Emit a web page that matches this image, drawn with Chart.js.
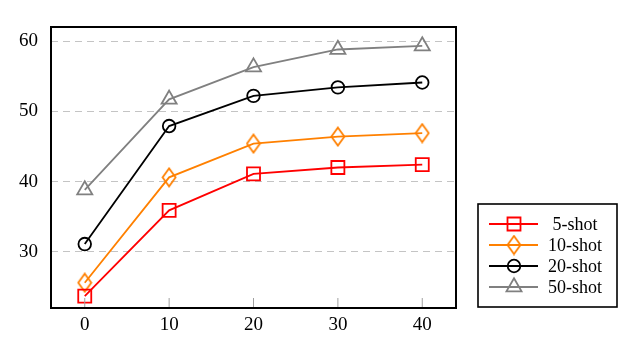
<!DOCTYPE html>
<html><head><meta charset="utf-8">
<script src="https://cdn.jsdelivr.net/npm/chart.js@4.4.1/dist/chart.umd.min.js"></script>
<style>html,body{margin:0;padding:0;background:#fff}</style>
</head><body>
<canvas id="c" width="642" height="352" style="width:642px;height:352px;display:block"></canvas>
<script>
const xValues = [0, 10, 20, 30, 40];
const shot5  = [23.7, 35.9, 41.1, 42.0, 42.4];
const shot10 = [25.6, 40.6, 45.4, 46.4, 46.9];
const shot20 = [31.1, 47.9, 52.2, 53.4, 54.1];
const shot50 = [38.8, 51.7, 56.3, 58.8, 59.3];
const seriesLabels = ['5-shot', '10-shot', '20-shot', '50-shot'];
const xTicks = [0, 10, 20, 30, 40];
const yTicks = [30, 40, 50, 60];

const FONT = 'Liberation Serif';
const LW = 1.8;
const toPts = arr => arr.map((v, i) => ({x: xValues[i], y: v}));

function makeDiamond(color) {
  const w = 16, h = 21;
  const cv = document.createElement('canvas');
  cv.width = w; cv.height = h;
  const c = cv.getContext('2d');
  c.strokeStyle = color; c.lineWidth = LW; c.lineJoin = 'miter';
  c.beginPath();
  c.moveTo(w / 2, 1.5); c.lineTo(w - 1.5, h / 2); c.lineTo(w / 2, h - 1.5); c.lineTo(1.5, h / 2);
  c.closePath(); c.stroke();
  return cv;
}

const styles = [
  {color: '#ff0000', pointStyle: 'rect', r: 9.2},
  {color: '#ff8000', pointStyle: makeDiamond('#ff8000'), r: 8},
  {color: '#000000', pointStyle: 'circle', r: 6.3},
  {color: '#808080', pointStyle: 'triangle', r: 8.7}
];
const seriesData = [shot5, shot10, shot20, shot50];

const datasets = seriesData.map((d, i) => ({
  label: seriesLabels[i],
  data: toPts(d),
  borderColor: styles[i].color,
  backgroundColor: 'rgba(0,0,0,0)',
  pointBackgroundColor: 'rgba(0,0,0,0)',
  pointBorderColor: styles[i].color,
  pointStyle: styles[i].pointStyle,
  pointRadius: styles[i].r,
  pointBorderWidth: LW,
  borderWidth: LW,
  tension: 0,
  clip: false
}));

const framePlugin = {
  id: 'frame',
  afterDatasetsDraw(chart) {
    const {ctx, chartArea: a, scales} = chart;
    ctx.save();
    ctx.strokeStyle = '#a0a0a0';
    ctx.lineWidth = 1;
    xTicks.forEach(v => {
      const px = scales.x.getPixelForValue(v);
      ctx.beginPath();
      ctx.moveTo(px, a.bottom);
      ctx.lineTo(px, a.bottom - 10);
      ctx.stroke();
    });
    ctx.strokeStyle = '#000';
    ctx.lineWidth = 2;
    ctx.strokeRect(a.left, a.top, a.right - a.left, a.bottom - a.top);
    ctx.restore();
  },
  afterDraw(chart) {
    const ctx = chart.ctx;
    ctx.save();
    ctx.fillStyle = '#fff';
    ctx.fillRect(478, 204, 139, 103);
    ctx.strokeStyle = '#000';
    ctx.lineWidth = 1.6;
    ctx.strokeRect(478, 204, 139, 103);
    chart.data.datasets.forEach((ds, i) => {
      const y = 224 + i * 21;
      ctx.strokeStyle = ds.borderColor;
      ctx.lineWidth = LW;
      ctx.beginPath();
      ctx.moveTo(489, y);
      ctx.lineTo(538, y);
      ctx.stroke();
      ctx.fillStyle = 'rgba(0,0,0,0)';
      ctx.strokeStyle = ds.borderColor;
      Chart.helpers.drawPoint(ctx, {pointStyle: ds.pointStyle, radius: styles[i].r, rotation: 0, borderWidth: LW}, 514, y);
      ctx.fillStyle = '#000';
      ctx.font = '18px "' + FONT + '"';
      ctx.textAlign = 'center';
      ctx.textBaseline = 'middle';
      ctx.fillText(ds.label, 575, y + 1);
    });
    ctx.restore();
  }
};

new Chart(document.getElementById('c'), {
  type: 'line',
  data: {datasets},
  plugins: [framePlugin],
  options: {
    responsive: false,
    animation: false,
    devicePixelRatio: 1,
    layout: {padding: {top: 27, right: 186, left: 0, bottom: 0}},
    plugins: {legend: {display: false}, tooltip: {enabled: false}},
    scales: {
      x: {
        type: 'linear',
        min: -4, max: 44,
        afterBuildTicks: s => { s.ticks = xTicks.map(v => ({value: v})); },
        afterFit: s => { s.height = 44; },
        grid: {display: false, drawTicks: false},
        border: {display: false},
        ticks: {color: '#000', font: {family: FONT, size: 19}, padding: 6, maxRotation: 0}
      },
      y: {
        type: 'linear',
        min: 22, max: 62,
        afterBuildTicks: s => { s.ticks = yTicks.map(v => ({value: v})); },
        afterFit: s => { s.width = 51; },
        grid: {color: '#c4c4c4', lineWidth: 1, drawTicks: false},
        border: {display: false, dash: [7, 5]},
        ticks: {color: '#000', font: {family: FONT, size: 19}, padding: 13}
      }
    }
  }
});
</script>
</body></html>
